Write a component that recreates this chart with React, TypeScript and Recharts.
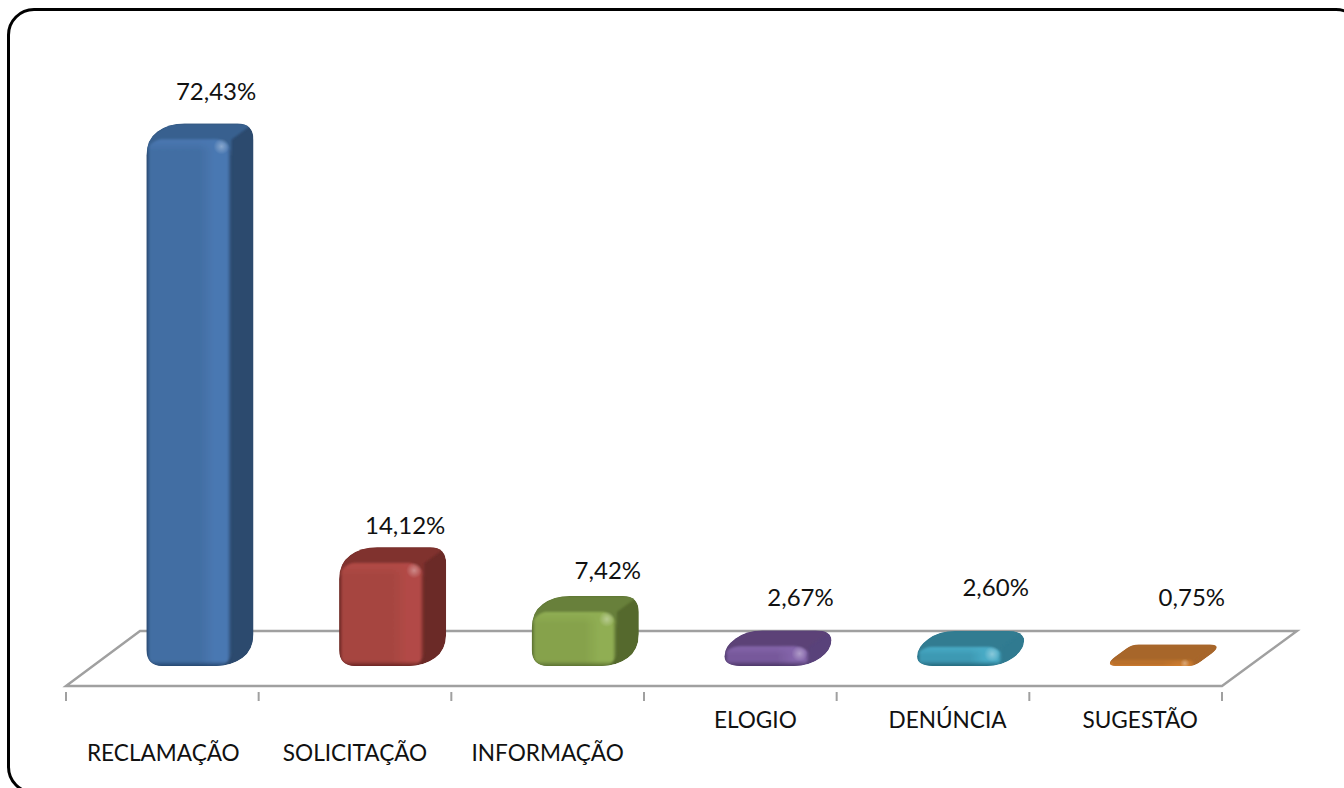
import { BarChart, Bar, XAxis, YAxis, Cell, LabelList, usePlotArea } from 'recharts'

const categories = ['RECLAMAÇÃO', 'SOLICITAÇÃO', 'INFORMAÇÃO', 'ELOGIO', 'DENÚNCIA', 'SUGESTÃO']
const values = [72.43, 14.12, 7.42, 2.67, 2.6, 0.75]

// front, bright stripe, top, side, bottom edge
const palette = [
  ['#426ea3', '#4a78b2', '#38608f', '#2c4a6e', '#1f3f66'],
  ['#a64541', '#b24a46', '#80322f', '#6b2a27', '#5e1f1c'],
  ['#86a24c', '#90ae53', '#68803a', '#55692d', '#55692d'],
  ['#77599b', '#8465aa', '#5b4377', '#59427a', '#43305c'],
  ['#3e99b3', '#48abc6', '#317b91', '#307a90', '#1f5f72'],
  ['#b56c2c', '#c4772d', '#a7662b', '#a7662b', '#e98b2e'],
]

const data = categories.map((name, i) => ({ name, value: values[i] }))

const DEPTH_X = 22
const DEPTH_Y = 16
const SHIFT_X = 26.5
const LABEL_OFFSET = [53.6, 50, 60, 60, 62.5, 66]
const LABEL_Y = [100, 534, 579, 606, 596, 606]
const TICK_Y = [761, 761, 761, 728, 728, 728]
const TICK_SHIFT = [1, 0, 0, 15, 14.5, 14.5]
const FONT = 'Lato, "Open Sans", sans-serif'
const AXIS_GREY = '#a0a0a0'

function roundedPoly(points: number[][], r: number) {
  const n = points.length
  let d = ''
  points.forEach((p, i) => {
    const prev = points[(i + n - 1) % n]
    const next = points[(i + 1) % n]
    const toward = (q: number[]) => {
      const len = Math.hypot(q[0] - p[0], q[1] - p[1])
      const k = Math.min(r, len / 2) / len
      return [p[0] + (q[0] - p[0]) * k, p[1] + (q[1] - p[1]) * k]
    }
    const a = toward(prev)
    const b = toward(next)
    d += `${i === 0 ? 'M' : 'L'}${a[0]},${a[1]} Q${p[0]},${p[1]} ${b[0]},${b[1]} `
  })
  return d + 'Z'
}

function Bar3D(props: any) {
  const { x, y, width, height, index } = props
  const [front, bright, top, side, edge] = palette[index]
  const fx = x + SHIFT_X
  const w = width
  const r = Math.min(16, 3 + height * 0.7)
  const outline = [
    [fx, y + height],
    [fx, y],
    [fx + DEPTH_X, y - DEPTH_Y],
    [fx + w + DEPTH_X, y - DEPTH_Y],
    [fx + w + DEPTH_X, y + height - DEPTH_Y],
    [fx + w, y + height],
  ]
  const topFace = [
    [fx, y + r],
    [fx, y],
    [fx + DEPTH_X, y - DEPTH_Y],
    [fx + w + DEPTH_X, y - DEPTH_Y],
    [fx + w, y],
    [fx + w, y + r],
  ]
  return (
    <g>
      <defs>
        <clipPath id={`shape-${index}`}>
          <path d={roundedPoly(outline, r)} />
        </clipPath>
        <filter id={`soft-${index}`} x="-20%" y="-20%" width="140%" height="140%">
          <feGaussianBlur stdDeviation="1.3" />
        </filter>
        <linearGradient id={`face-${index}`} x1="0" x2="1" y1="0" y2="0">
          <stop offset="0" stopColor={edge} />
          <stop offset="0.04" stopColor={front} />
          <stop offset="0.62" stopColor={front} />
          <stop offset="0.8" stopColor={bright} />
          <stop offset="0.95" stopColor={bright} />
          <stop offset="1" stopColor={side} />
        </linearGradient>
        <linearGradient id={`shade-${index}`} x1="0" x2="0" y1="0" y2="1">
          <stop offset="0" stopColor={bright} />
          <stop offset={`${Math.min(0.4, 12 / Math.max(height, 1))}`} stopColor={bright} stopOpacity="0" />
          <stop offset={`${Math.max(0.6, 1 - 6 / Math.max(height, 1))}`} stopColor={edge} stopOpacity="0" />
          <stop offset="1" stopColor={edge} />
        </linearGradient>
        <radialGradient id={`shine-${index}`}>
          <stop offset="0" stopColor="#fff" stopOpacity="0.35" />
          <stop offset="1" stopColor="#fff" stopOpacity="0" />
        </radialGradient>
      </defs>
      <g clipPath={`url(#shape-${index})`}>
        <path d={roundedPoly(outline, r)} fill={side} />
        <g filter={`url(#soft-${index})`}>
          <polygon points={topFace.map(p => p.join(',')).join(' ')} fill={top} />
          <rect x={fx} y={y} width={w} height={height + 1} rx={r} fill={`url(#face-${index})`} />
          <rect x={fx} y={y} width={w} height={height + 1} rx={r} fill={`url(#shade-${index})`} />
        </g>
        <circle cx={fx + w - 10} cy={y + Math.min(7, height / 2)} r={Math.min(8, height / 2 + 2)} fill={`url(#shine-${index})`} />
      </g>
    </g>
  )
}

function Floor() {
  const plot = usePlotArea()
  if (!plot) return null
  const bottom = plot.y + plot.height
  const left = plot.x
  const right = plot.x + plot.width
  const pts = [
    [left, bottom],
    [left + 74, bottom - 55],
    [right + 75, bottom - 55],
    [right, bottom],
  ]
  return (
    <polygon
      points={pts.map(p => p.join(',')).join(' ')}
      fill="none"
      stroke={AXIS_GREY}
      strokeWidth={2.4}
    />
  )
}

function CategoryTick(props: any) {
  const { x, y, index, payload } = props
  const band = 192.67
  return (
    <g>
      <line x1={x - band / 2} x2={x - band / 2} y1={y - 2} y2={y + 7} stroke={AXIS_GREY} strokeWidth={2} />
      {index === categories.length - 1 && (
        <line x1={x + band / 2} x2={x + band / 2} y1={y - 2} y2={y + 7} stroke={AXIS_GREY} strokeWidth={2} />
      )}
      <text x={x + TICK_SHIFT[index]} y={TICK_Y[index]} textAnchor="middle" fontFamily={FONT} fontSize={22.6} fill="#111">
        {payload.value}
      </text>
    </g>
  )
}

function ValueLabel(props: any) {
  const { x, width, index, value } = props
  return (
    <text
      x={x + width / 2 + LABEL_OFFSET[index]}
      y={LABEL_Y[index]}
      textAnchor="middle"
      fontFamily={FONT}
      fontSize={24}
      fill="#111"
    >
      {value.toFixed(2).replace('.', ',')}%
    </text>
  )
}

export default function App() {
  return (
    <div style={{ position: 'absolute', left: 0, top: 0, width: 1344, height: 788, overflow: 'hidden', background: '#fff' }}>
      <div
        style={{
          position: 'absolute',
          left: 7,
          top: 8,
          width: 1350,
          height: 780,
          border: '3.5px solid #000',
          borderRadius: 27,
        }}
      />
      <div style={{ position: 'absolute', left: 0, top: 0 }}>
        <BarChart
          width={1344}
          height={788}
          data={data}
          barSize={85}
          margin={{ top: 84.4, right: 122, bottom: 0, left: 66 }}
        >
          <Floor />
          <XAxis
            dataKey="name"
            interval={0}
            axisLine={false}
            tickLine={false}
            tick={<CategoryTick />}
            height={102}
          />
          <YAxis hide domain={[-2.75, 80]} allowDataOverflow />
          <Bar dataKey="value" isAnimationActive={false} shape={<Bar3D />}>
            {data.map((d, i) => (
              <Cell key={d.name} fill={palette[i][0]} />
            ))}
            <LabelList dataKey="value" content={<ValueLabel />} />
          </Bar>
        </BarChart>
      </div>
    </div>
  )
}
